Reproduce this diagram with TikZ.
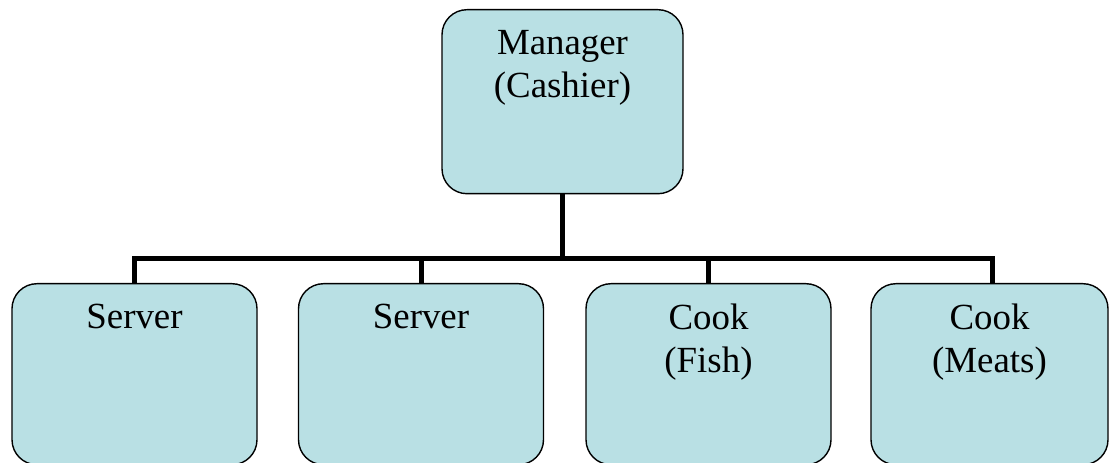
\documentclass[tikz,border=0pt]{standalone}
\usepackage{fontspec}
\setmainfont{Liberation Serif}
\definecolor{boxfill}{HTML}{B9E0E4}
\begin{document}
\begin{tikzpicture}[x=1bp,y=-1bp,
  unitbox/.style={draw=black,line width=1.4bp,fill=boxfill,rounded corners=25bp,
    inner sep=0pt,minimum width=#1,minimum height=181bp,anchor=north},
  unitbox/.default=245bp,
  boxtext/.style={anchor=north,align=center,inner sep=0pt,
    font=\fontsize{37}{43}\selectfont},
  conn/.style={draw=black,line width=5bp}]
\useasboundingbox (0,0) rectangle (1109,463);
% staff boxes
\node[unitbox=241bp,minimum height=184bp] (mgr) at (562.5,9) {};
\node[unitbox] (srv1) at (134.5,283) {};
\node[unitbox] (srv2) at (421,283) {};
\node[unitbox] (cookf) at (708.5,283) {};
\node[unitbox=237bp] (cookm) at (989.5,283) {};
% titles
\node[boxtext] (tmgr) at ([yshift=-21bp]mgr.north) {Manager\\(Cashier)};
\node[boxtext] (tsrv1) at ([yshift=-21bp]srv1.north) {Server};
\node[boxtext] (tsrv2) at ([yshift=-21bp]srv2.north) {Server};
\node[boxtext] (tcookf) at ([yshift=-21bp]cookf.north) {Cook\\(Fish)};
\node[boxtext] (tcookm) at ([yshift=-21bp]cookm.north) {Cook\\(Meats)};
% reporting lines
\coordinate (bus) at (562.5,259);
\draw[conn] (mgr.south) -- (bus);
\draw[conn] (srv1.north) |- (bus);
\draw[conn] (srv2.north) |- (bus);
\draw[conn] (cookf.north) |- (bus);
\draw[conn] ([xshift=3bp]cookm.north) |- (bus);
\end{tikzpicture}
\end{document}
